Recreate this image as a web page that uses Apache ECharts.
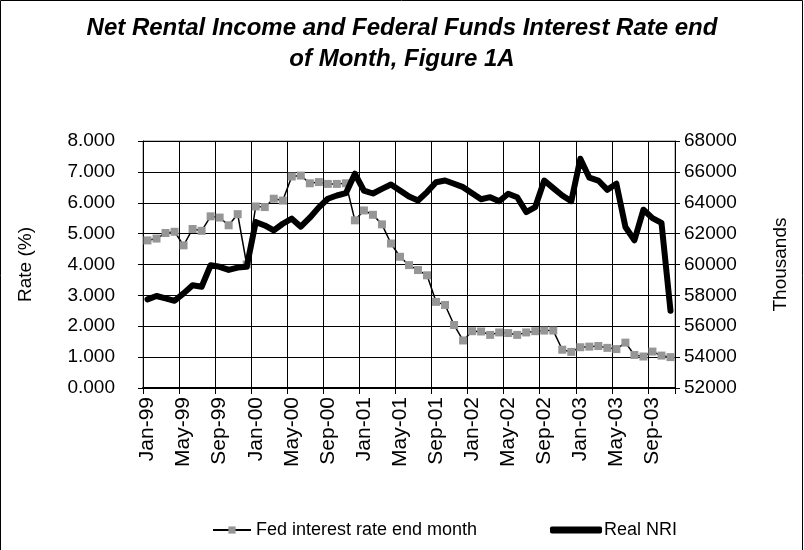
<!DOCTYPE html>
<html><head><meta charset="utf-8">
<script src="https://cdn.jsdelivr.net/npm/echarts@6/dist/echarts.min.js"></script>
<style>html,body{margin:0;padding:0;background:#fff}#c{width:804px;height:550px}</style>
</head><body><div id="c"></div>
<script>
const categories = [
  'Jan-99','Feb-99','Mar-99','Apr-99','May-99','Jun-99','Jul-99','Aug-99','Sep-99','Oct-99','Nov-99','Dec-99',
  'Jan-00','Feb-00','Mar-00','Apr-00','May-00','Jun-00','Jul-00','Aug-00','Sep-00','Oct-00','Nov-00','Dec-00',
  'Jan-01','Feb-01','Mar-01','Apr-01','May-01','Jun-01','Jul-01','Aug-01','Sep-01','Oct-01','Nov-01','Dec-01',
  'Jan-02','Feb-02','Mar-02','Apr-02','May-02','Jun-02','Jul-02','Aug-02','Sep-02','Oct-02','Nov-02','Dec-02',
  'Jan-03','Feb-03','Mar-03','Apr-03','May-03','Jun-03','Jul-03','Aug-03','Sep-03','Oct-03','Nov-03'
];
const fedRate = [
  4.78,4.84,5.02,5.06,4.62,5.15,5.09,5.56,5.52,5.27,5.63,4.00,
  5.88,5.86,6.13,6.07,6.85,6.88,6.63,6.67,6.61,6.61,6.63,5.43,
  5.75,5.61,5.30,4.68,4.25,3.98,3.82,3.65,2.79,2.69,2.04,1.54,
  1.84,1.83,1.72,1.80,1.78,1.72,1.80,1.84,1.86,1.86,1.24,1.17,
  1.32,1.34,1.36,1.30,1.26,1.47,1.07,1.02,1.18,1.05,1.00
];
const realNRI = [
  57740,57960,57810,57650,58130,58660,58560,59950,59850,59650,59800,59850,
  62750,62530,62210,62640,62970,62450,63030,63700,64260,64470,64620,65880,
  64790,64600,64900,65180,64800,64400,64150,64690,65330,65440,65230,65010,
  64620,64230,64360,64100,64580,64360,63400,63720,65440,64950,64470,64100,
  66850,65620,65440,64840,65230,62430,61570,63550,63000,62700,57000
];
const seriesNames = ['Fed interest rate end month', 'Real NRI'];
const titleText = 'Net Rental Income and Federal Funds Interest Rate end\nof Month, Figure 1A';
const leftAxisName = 'Rate (%)';
const rightAxisName = 'Thousands';

const FONT = "'Liberation Sans', Arial, sans-serif";
const chart = echarts.init(document.getElementById('c'), null, {renderer: 'canvas'});
chart.setOption({
  backgroundColor: '#fff',
  animation: false,
  textStyle: {fontFamily: FONT, color: '#000'},
  title: {
    text: titleText, left: 'center', top: 8,
    textStyle: {fontFamily: FONT, fontSize: 24, fontWeight: 'bold', fontStyle: 'italic', color: '#000', lineHeight: 31, align: 'center'}
  },
  graphic: [{type: 'rect', shape: {x: 0.5, y: 0.5, width: 802, height: 580}, style: {fill: 'none', stroke: '#000', lineWidth: 1}, silent: true}],
  legend: [
    {data: [seriesNames[0]], left: 207, top: 516, itemWidth: 38, itemHeight: 9, itemGap: 4,
     textStyle: {fontFamily: FONT, fontSize: 18, color: '#000'}},
    {data: [{name: seriesNames[1], icon: 'roundRect'}], left: 545, top: 516, itemWidth: 52, itemHeight: 7, itemGap: 2,
     itemStyle: {color: '#000'}, textStyle: {fontFamily: FONT, fontSize: 18, color: '#000', padding: [0, 0, 0, -3]}}
  ],
  grid: {left: 143, right: 129, top: 141, bottom: 162, show: true, borderColor: '#808080', borderWidth: 1, containLabel: false},
  xAxis: {
    type: 'category', data: categories, boundaryGap: true,
    axisLine: {show: true, lineStyle: {color: '#000', width: 2}},
    axisTick: {show: true, interval: 3, length: 6, inside: false, lineStyle: {color: '#000'}},
    axisLabel: {interval: 3, rotate: 90, fontSize: 21, fontFamily: FONT, color: '#000', margin: 9},
    splitLine: {show: true, interval: 3, lineStyle: {color: '#000', width: 1}}
  },
  yAxis: [
    {type: 'value', min: 0, max: 8, interval: 1, position: 'left',
     name: leftAxisName, nameLocation: 'middle', nameRotate: 90, nameGap: 108,
     nameTextStyle: {fontFamily: FONT, fontSize: 19, color: '#000'},
     axisLine: {show: true, lineStyle: {color: '#000', width: 1}},
     axisTick: {show: true, length: 5, lineStyle: {color: '#000'}},
     axisLabel: {fontSize: 19, fontFamily: FONT, color: '#000', margin: 28, formatter: v => v.toFixed(3)},
     splitLine: {show: true, lineStyle: {color: '#000', width: 1}}},
    {type: 'value', min: 52000, max: 68000, interval: 2000, position: 'right',
     name: rightAxisName, nameLocation: 'middle', nameRotate: 90, nameGap: 96,
     nameTextStyle: {fontFamily: FONT, fontSize: 19, color: '#000'},
     axisLine: {show: true, lineStyle: {color: '#000', width: 1}},
     axisTick: {show: true, length: 5, lineStyle: {color: '#000'}},
     axisLabel: {fontSize: 19, fontFamily: FONT, color: '#000', margin: 9, formatter: v => String(v)},
     splitLine: {show: false}}
  ],
  series: [
    {name: seriesNames[0], type: 'line', yAxisIndex: 0, data: fedRate,
     symbol: 'rect', symbolSize: 8, showSymbol: true, showAllSymbol: true,
     itemStyle: {color: '#969696'}, lineStyle: {color: '#000', width: 1.5}, z: 2},
    {name: seriesNames[1], type: 'line', yAxisIndex: 1, data: realNRI,
     showSymbol: false, symbol: 'none',
     itemStyle: {color: '#000'}, lineStyle: {color: '#000', width: 6, cap: 'round', join: 'round'}, z: 3}
  ]
});
</script></body></html>
